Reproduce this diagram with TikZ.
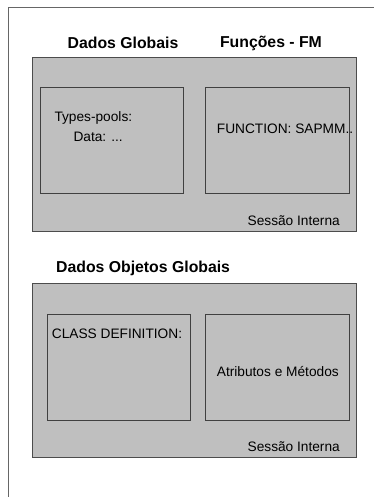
\documentclass[tikz,border=0pt]{standalone}
\usepackage{fontspec}
\setmainfont{Liberation Sans}
\begin{document}
\begin{tikzpicture}[x=1pt,y=-1pt,
  panel/.style={draw=black!70, line width=1.2pt, fill=black!25},
  slot/.style={draw=black!75, line width=0.9pt},
  heading/.style={font=\fontsize{15.8}{18}\selectfont\bfseries, inner sep=0pt},
  label/.style={font=\fontsize{13.7}{16}\selectfont, inner sep=0pt}]
  \useasboundingbox (0,0) rectangle (374,497);
  % page frame
  \draw[black!60, line width=1.4pt] (8.5,497) -- (8.5,7.5) -- (374,7.5);

  % upper session
  \node[heading] (dg) at (123,43) {Dados Globais};
  \node[heading] (fm) at (271,43) {Funções - FM};
  \path[panel] (32.3,57.3) rectangle (356.8,231.3);
  \path[slot] (40,87.7) rectangle (183.3,193);
  \path[slot] (205.3,87.7) rectangle (349.7,193);
  \node[label, anchor=west] (tp) at (54.3,117.7) {Types-pools:};
  \node[label, anchor=west] (dt) at (73.3,137) {Data: ...};
  \node[label, anchor=west] (fn) at (216.7,128.3) {FUNCTION: SAPMM..};
  \node[label, anchor=east] (s1) at (340,220.7) {Sessão Interna};

  % lower session
  \node[heading, anchor=west] (dog) at (56,268.3) {Dados Objetos Globais};
  \path[panel] (32.3,283.3) rectangle (356.8,457.3);
  \path[slot] (47.7,314.3) rectangle (190.7,420.3);
  \path[slot] (205.3,314.3) rectangle (349.7,420.3);
  \node[label, anchor=west] (cd) at (51.7,333.3) {CLASS DEFINITION:};
  \node[label, anchor=west] (am) at (216.7,371.7) {Atributos e Métodos};
  \node[label, anchor=east] (s2) at (340,446.7) {Sessão Interna};
\end{tikzpicture}
\end{document}
